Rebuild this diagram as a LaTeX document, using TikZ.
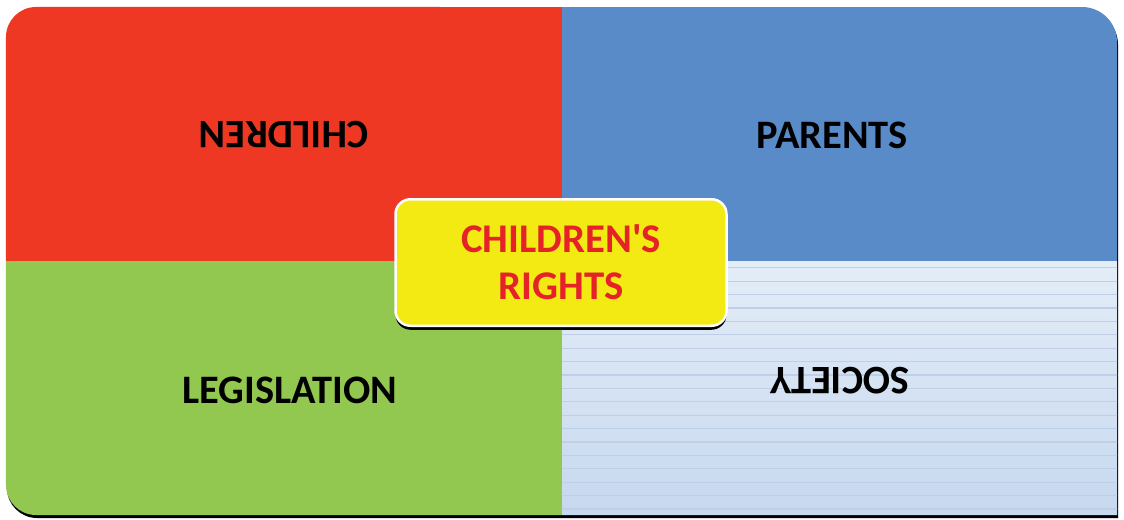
\documentclass[tikz,border=0pt]{standalone}
\usepackage{fontspec}
\setmainfont{Carlito}
\usetikzlibrary{shadows}
\definecolor{quadred}{RGB}{238,56,35}
\definecolor{quadblue}{RGB}{88,139,199}
\definecolor{quadgreen}{RGB}{146,199,80}
\definecolor{socitop}{RGB}{228,237,247}
\definecolor{socibot}{RGB}{198,216,239}
\definecolor{socline}{RGB}{190,207,231}
\definecolor{hubyellow}{RGB}{242,234,18}
\definecolor{hubtext}{RGB}{228,34,40}

\begin{document}
\begin{tikzpicture}[
  lbl/.style={font=\fontsize{11.5}{13}\selectfont\bfseries, text=black, inner sep=0pt},
  hub/.style={draw=white, line width=0.025cm, fill=hubyellow, rounded corners=0.15cm,
    minimum width=3.31cm, minimum height=1.265cm, align=center, text=hubtext,
    font=\fontsize{11.6}{13.4}\selectfont\bfseries,
    drop shadow={fill=black, opacity=1, shadow xshift=0cm, shadow yshift=-0.04cm}}]
\useasboundingbox (0,0) rectangle (11.24,5.19);
\def\outline{(0.06,0.34) -- (0.06,4.82) arc[start angle=180,end angle=90,radius=0.3]
  -- (10.82,5.12) arc[start angle=90,end angle=0,radius=0.35]
  -- (11.17,0.04) -- (0.36,0.04) arc[start angle=270,end angle=180,radius=0.3] -- cycle}
% Shadow under the whole panel
\fill[black, xshift=0.01cm, yshift=-0.03cm] \outline;
% Four quadrants, clipped to the rounded outline
\begin{scope}
\clip \outline;
\fill[quadred] (0,2.58) rectangle (5.62,5.2);
\fill[quadblue] (5.62,2.58) rectangle (11.2,5.2);
\fill[quadgreen] (0,0) rectangle (5.62,2.58);
\shade[top color=socitop, bottom color=socibot] (5.62,0) rectangle (11.2,2.58);
% Thin stripes on the society quadrant
\foreach \y in {0.10,0.234,...,2.55}
  \draw[socline, line width=0.35pt] (5.62,\y) -- (11.2,\y);
\end{scope}
% Quadrant labels
\node[lbl, rotate=180] (children) at (2.84,3.84) {CHILDREN};
\node[lbl] (parents) at (8.32,3.84) {PARENTS};
\node[lbl] (legislation) at (2.90,1.29) {LEGISLATION};
\node[lbl, rotate=180] (society) at (8.40,1.38) {SOCIETY};
% Centre box
\node[hub] (rights) at (5.61,2.565) {CHILDREN\textquotesingle S\\RIGHTS};
\end{tikzpicture}
\end{document}
